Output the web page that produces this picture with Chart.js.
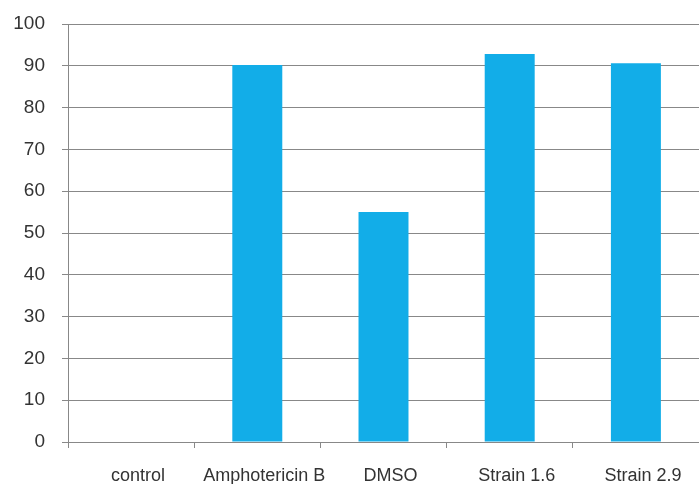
<!DOCTYPE html>
<html>
<head>
<meta charset="utf-8">
<script src="https://cdn.jsdelivr.net/npm/chart.js@4/dist/chart.umd.min.js"></script>
<style>
  html, body { margin: 0; padding: 0; background: #ffffff; overflow: hidden; }
  #wrap { width: 699px; height: 484px; }
</style>
</head>
<body>
<div id="wrap"><canvas id="chart" width="699" height="484"></canvas></div>
<script>
// Treatments and measured response (%)
const categories = ['control', 'Amphotericin B', 'DMSO', 'Strain 1.6', 'Strain 2.9'];
const responseValues = [0, 90.2, 55, 92.8, 90.6];
const yTicks = [0, 10, 20, 30, 40, 50, 60, 70, 80, 90, 100];

const lineGray = '#888888';
const textGray = '#333333';
const barBlue = '#12ADE8';

new Chart(document.getElementById('chart'), {
  type: 'bar',
  data: {
    labels: categories,
    datasets: [{
      data: responseValues,
      backgroundColor: barBlue,
      borderWidth: 0,
      categoryPercentage: 1,
      barPercentage: 0.396
    }]
  },
  options: {
    responsive: false,
    animation: false,
    layout: { padding: { top: 24, right: 0, bottom: 0, left: 0 } },
    plugins: { legend: { display: false }, tooltip: { enabled: false } },
    scales: {
      x: {
        afterFit: s => { s.height = 42; s.paddingLeft = 0; s.paddingRight = 0; },
        grid: { drawOnChartArea: false, drawTicks: true, tickLength: 6, color: lineGray },
        border: { display: true, color: lineGray },
        ticks: {
          color: textGray,
          font: { family: 'Liberation Sans, Arial, sans-serif', size: 18 },
          padding: 17,
          labelOffset: 7,
          maxRotation: 0,
          autoSkip: false
        }
      },
      y: {
        min: 0,
        max: 100,
        afterFit: s => { s.width = 68; s.paddingTop = 0; s.paddingBottom = 0; },
        afterBuildTicks: s => { s.ticks = yTicks.map(v => ({ value: v })); },
        grid: { drawTicks: true, tickLength: 6, color: lineGray },
        border: { display: true, color: lineGray },
        ticks: {
          color: textGray,
          font: { family: 'Liberation Sans, Arial, sans-serif', size: 19 },
          padding: 17
        }
      }
    }
  }
});
</script>
</body>
</html>
